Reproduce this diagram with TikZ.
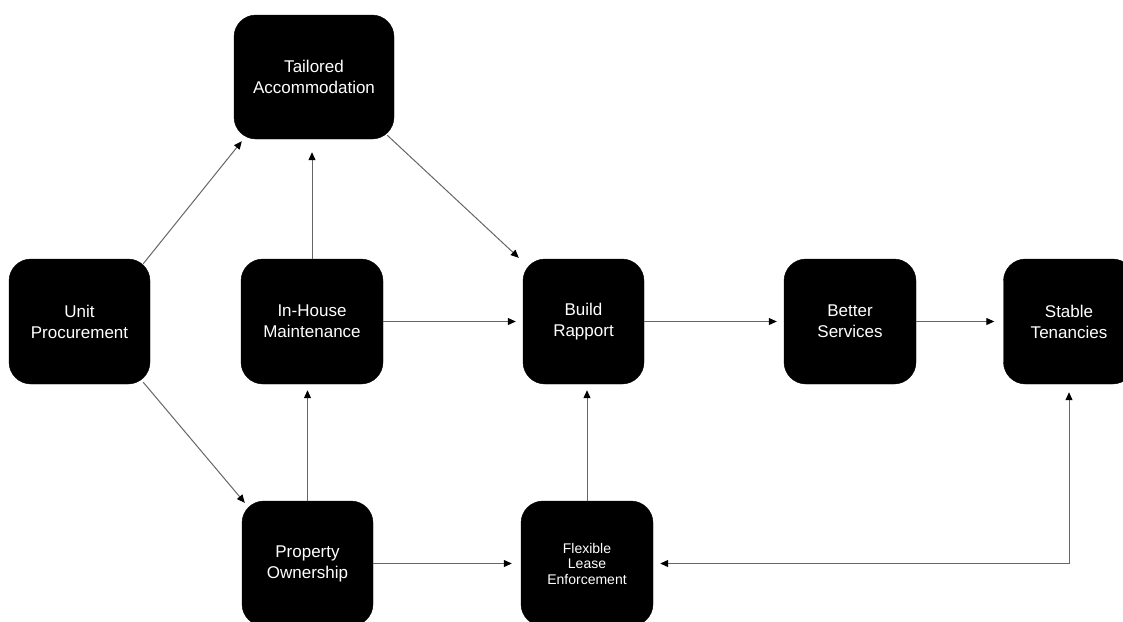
\documentclass[tikz,border=0pt]{standalone}
\usepackage{fontspec}
\setmainfont{Liberation Sans}
\usetikzlibrary{calc,arrows.meta}
\begin{document}
\begin{tikzpicture}[x=1pt,y=-1pt,
  box/.style={fill=black, draw=black, rounded corners=22pt, text=white,
    align=center, font=\fontsize{17}{21}\selectfont, inner sep=0pt,
    minimum height=125pt},
  link/.style={draw=black!60, line width=1pt, -{Triangle[length=8pt,width=7pt,color=black]}},
]
\useasboundingbox (0,0) rectangle (1123,621);
\clip (0,0) rectangle (1123,621);
\fill[white] (0,0) rectangle (1123,621);

% blocks
\node[box, minimum width=160pt, minimum height=124pt] (t) at (314,77) {Tailored\\Accommodation};
\node[box, minimum width=141pt] (u) at (79.5,321.5) {Unit\\Procurement};
\node[box, minimum width=142pt] (i) at (312,321.5) {In-House\\Maintenance};
\node[box, minimum width=121pt] (b) at (583.5,321.5) {Build\\Rapport};
\node[box, minimum width=132pt] (bs) at (850,321.5) {Better\\Services};
\node[box, minimum width=131pt] (s) at (1069,321.5) {Stable\\Tenancies};
\node[box, minimum width=131pt] (p) at (307.5,563.5) {Property\\Ownership};
\node[box, minimum width=132pt, font=\fontsize{14}{15.5}\selectfont] (f) at (587,563.5) {Flexible\\Lease\\Enforcement};

% connectors
\draw[link] ($(u.north east)+(-7,5)$) -- ($(t.south west)+(8,2)$);
\draw[link] ($(u.south east)+(-7,-2)$) -- ($(p.north west)+(3,2)$);
\draw[link, shorten >=13pt] (i.north) -- (i.north |- t.south);
\draw[link, shorten >=6pt] (p.north) -- (p.north |- i.south);
\draw[link, shorten >=7pt] (i.east) -- (b.west);
\draw[link] ($(t.south east)+(-7,-4)$) -- ($(b.north west)+(-4,-1)$);
\draw[link, shorten >=7pt] (b.east) -- (bs.west);
\draw[link, shorten >=9pt] (bs.east) -- (s.west);
\draw[link, shorten >=9pt] (p.east) -- (f.west);
\draw[link, shorten >=6pt] (f.north) -- (f.north |- b.south);
\draw[link, {Triangle[length=8pt,width=7pt,color=black]}-{Triangle[length=8pt,width=7pt,color=black]},
  shorten <=7pt, shorten >=8pt] (f.east) -| (s.south);
\end{tikzpicture}
\end{document}
